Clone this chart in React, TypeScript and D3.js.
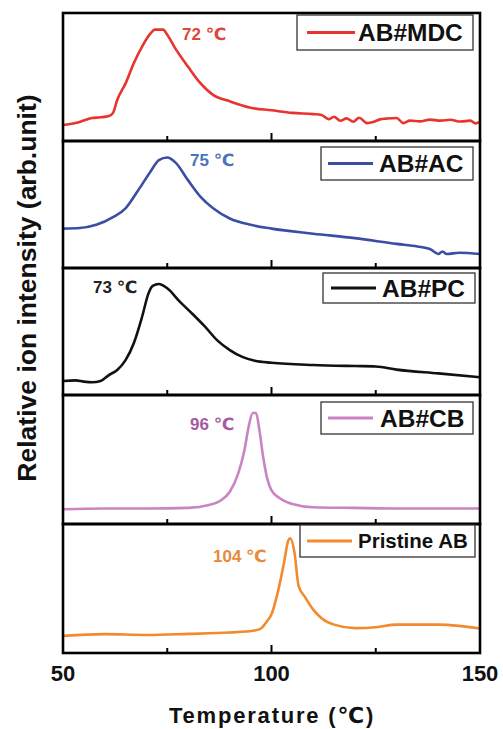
import React from "react";
import * as d3 from "d3";

// ---- data (temperature °C, relative intensity 0..1 within each panel) ----
const mdcT = [50, 53, 55, 57, 59, 61, 62, 63, 65, 67, 69, 71, 72, 74, 75, 77, 80, 83, 86, 90, 95, 100, 105, 110, 112, 113.7, 115, 116.5, 118, 119.6, 121, 122.9, 124.4, 126, 127.6, 130, 131.6, 133.2, 135.6, 138, 140.5, 142.9, 145.3, 147.7, 148.9, 150];
const mdcV = [0.125, 0.14, 0.16, 0.18, 0.185, 0.195, 0.22, 0.32, 0.45, 0.61, 0.74, 0.84, 0.87, 0.87, 0.83, 0.72, 0.58, 0.45, 0.36, 0.31, 0.26, 0.24, 0.22, 0.21, 0.203, 0.17, 0.19, 0.158, 0.177, 0.15, 0.182, 0.14, 0.148, 0.169, 0.175, 0.18, 0.14, 0.159, 0.153, 0.167, 0.159, 0.166, 0.152, 0.159, 0.138, 0.15];

const acT = [50, 54, 58, 62, 65, 68, 71, 73, 75, 77, 80, 83, 86, 90, 95, 100, 110, 120, 130, 135, 138, 140, 141, 142, 145, 150];
const acV = [0.31, 0.315, 0.34, 0.4, 0.47, 0.61, 0.76, 0.85, 0.87, 0.83, 0.69, 0.56, 0.47, 0.39, 0.34, 0.31, 0.27, 0.235, 0.19, 0.17, 0.15, 0.11, 0.13, 0.11, 0.12, 0.11];

const pcT = [50, 53, 55, 57, 59, 61, 63, 65, 67, 69, 70.5, 71.5, 73, 75, 78, 81, 84, 87, 90, 93, 96, 100, 110, 120, 125, 130, 140, 150];
const pcV = [0.11, 0.115, 0.105, 0.1, 0.11, 0.157, 0.197, 0.275, 0.41, 0.62, 0.8, 0.86, 0.874, 0.84, 0.735, 0.64, 0.54, 0.43, 0.354, 0.3, 0.27, 0.254, 0.236, 0.228, 0.225, 0.2, 0.17, 0.14];

const cbT = [50, 60, 70, 80, 85, 88, 90, 92, 93.5, 94.5, 95.5, 96.3, 97, 98, 99, 100, 102, 105, 110, 120, 130, 150];
const cbV = [0.114, 0.12, 0.12, 0.125, 0.147, 0.186, 0.25, 0.39, 0.57, 0.75, 0.86, 0.86, 0.75, 0.52, 0.35, 0.26, 0.2, 0.155, 0.13, 0.125, 0.12, 0.12];

const abT = [50, 60, 70, 80, 90, 96, 97.5, 99, 100, 101.5, 103, 104, 104.5, 105.5, 106.5, 108, 110, 112, 115, 120, 125, 130, 140, 145, 150];
const abV = [0.133, 0.146, 0.14, 0.148, 0.159, 0.174, 0.19, 0.25, 0.3, 0.47, 0.7, 0.87, 0.89, 0.78, 0.52, 0.435, 0.336, 0.27, 0.22, 0.193, 0.2, 0.22, 0.22, 0.21, 0.19];

const seriesNames = ["AB#MDC", "AB#AC", "AB#PC", "AB#CB", "Pristine AB"];
const peakLabels = ["72 ℃", "75 ℃", "73 ℃", "96 ℃", "104 ℃"];
const xTicks = [50, 75, 100, 125, 150];
const xTickLabels = [50, 100, 150];
const xLabel = "Temperature (℃)";
const yLabel = "Relative ion intensity (arb.unit)";

const lineColors = ["#e8332f", "#3a4ea6", "#111111", "#c984c4", "#f28a2e"];
const labelColors = ["#e0453c", "#4b74b8", "#222222", "#a65aa3", "#e88a3c"];

const seriesT = [mdcT, acT, pcT, cbT, abT];
const seriesV = [mdcV, acV, pcV, cbV, abV];

// ---- layout ----
const LEFT = 63;
const RIGHT = 480;
const panelEdges = [13, 141, 268, 395, 524, 653];
const legendBox = [
  { x: 297, y: 15, w: 176, h: 35, lx1: 307, lx2: 355, tx: 358, fs: 24.5 },
  { x: 321, y: 147, w: 152, h: 33, lx1: 328, lx2: 373, tx: 379, fs: 24.5 },
  { x: 323, y: 273, w: 152, h: 30, lx1: 331, lx2: 376, tx: 382, fs: 24.5 },
  { x: 321, y: 402, w: 152, h: 32, lx1: 328, lx2: 373, tx: 380, fs: 24.5 },
  { x: 300, y: 525, w: 175, h: 32, lx1: 307, lx2: 352, tx: 358, fs: 20.5 },
];
const peakPos = [
  { x: 182, y: 40 },
  { x: 190, y: 166 },
  { x: 93, y: 293 },
  { x: 190, y: 430 },
  { x: 213, y: 562 },
];

const FONT = "'Liberation Sans', Arial, 'DejaVu Sans', sans-serif";

export default function App() {
  const x = d3.scaleLinear().domain([50, 150]).range([LEFT, RIGHT]);

  return (
    <svg width={503} height={729} style={{ position: "absolute", left: 0, top: 0, background: "#fff" }}>
      {seriesNames.map((name, i) => {
        const top = panelEdges[i];
        const bottom = panelEdges[i + 1];
        const y = d3.scaleLinear().domain([0, 1]).range([bottom, top]);
        const pts = seriesT[i].map((t, k) => [t, seriesV[i][k]] as [number, number]);
        const line = d3
          .line<[number, number]>()
          .x((d) => x(d[0]))
          .y((d) => y(d[1]))
          .curve(d3.curveMonotoneX);
        const lb = legendBox[i];
        return (
          <g key={name}>
            <path d={line(pts) || ""} fill="none" stroke={lineColors[i]} strokeWidth={2.6} strokeLinejoin="round" />
            {xTicks.map((t) => {
              const major = t === 50 || t === 100 || t === 150;
              return (
                <line key={t} x1={x(t)} x2={x(t)} y1={bottom} y2={bottom - (major ? 8 : 5)} stroke="#000" strokeWidth={2} />
              );
            })}
            <rect x={LEFT} y={top} width={RIGHT - LEFT} height={bottom - top} fill="none" stroke="#000" strokeWidth={2.6} />
            <rect x={lb.x} y={lb.y} width={lb.w} height={lb.h} fill="#fff" stroke="#333" strokeWidth={1.3} />
            <line x1={lb.lx1} x2={lb.lx2} y1={lb.y + lb.h / 2} y2={lb.y + lb.h / 2} stroke={lineColors[i]} strokeWidth={2.8} />
            <text x={lb.tx} y={lb.y + lb.h / 2} dy="0.36em" fontFamily={FONT} fontWeight="bold" fontSize={lb.fs} fill="#111">
              {name}
            </text>
            <text x={peakPos[i].x} y={peakPos[i].y} fontFamily={FONT} fontWeight="bold" fontSize={17} fill={labelColors[i]}>
              {peakLabels[i]}
            </text>
          </g>
        );
      })}
      {xTickLabels.map((t) => (
        <text key={t} x={x(t)} y={681} textAnchor="middle" fontFamily={FONT} fontWeight="bold" fontSize={22} fill="#111">
          {t}
        </text>
      ))}
      <text x={272} y={723} textAnchor="middle" fontFamily={FONT} fontWeight="bold" fontSize={22} letterSpacing={1.8} fill="#111">
        {xLabel}
      </text>
      <text
        transform={`translate(36, 288) rotate(-90)`}
        textAnchor="middle"
        fontFamily={FONT}
        fontWeight="bold"
        fontSize={26.5}
        fill="#111"
      >
        {yLabel}
      </text>
    </svg>
  );
}
